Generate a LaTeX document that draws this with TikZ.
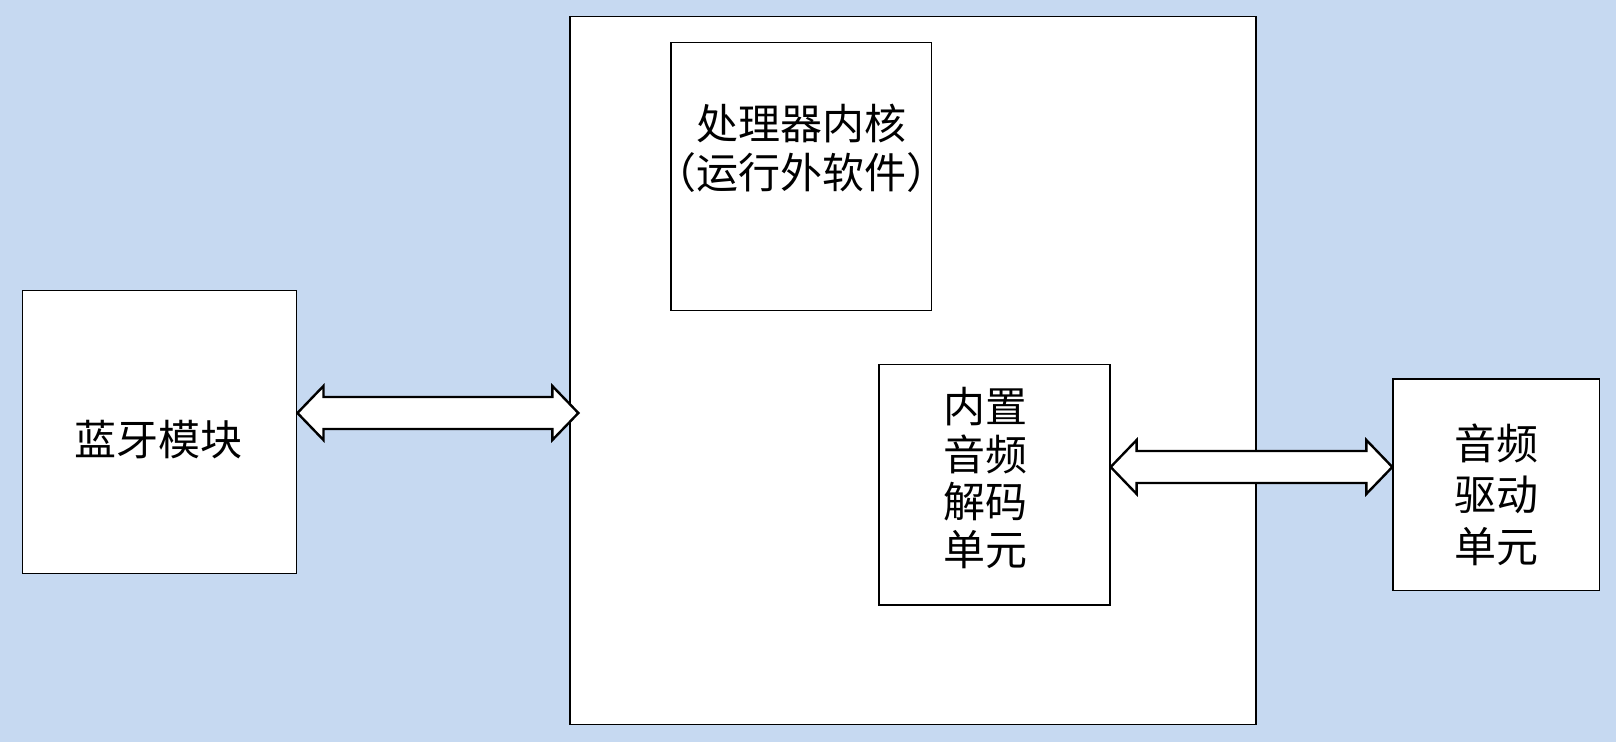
\documentclass[tikz,border=0pt]{standalone}
\usepackage{fontspec}
\setmainfont{Noto Sans CJK SC}
\usetikzlibrary{positioning, calc}
\definecolor{bgblue}{HTML}{C6D9F1}

\begin{document}
\begin{tikzpicture}[
        x=1pt, y=-1pt,
        box/.style={rectangle, draw=black, line width=1.3pt, fill=white, inner sep=0pt},
        txt/.style={align=center, font=\fontsize{42}{49}\selectfont, inner sep=0pt},
        bigarrow/.style={draw=black, line width=2.4pt, fill=white, line join=miter}
    ]
    % background
    \fill[bgblue] (0,0) rectangle (1616,742);
    \useasboundingbox (0,0) rectangle (1616,742);

    % boxes
    \node[box, minimum width=274, minimum height=283] (bt) at (159.8,432.3) {};
    \node[txt] (bttxt) at (158.5,440) {蓝牙模块};

    \node[box, minimum width=686, minimum height=708] (soc) at (913,370.5) {};

    \node[box, minimum width=260.7, minimum height=268] (core) at (801.3,176.3) {};
    \node[txt] (coretxt) at (801,148.5) {处理器内核\\（运行外软件）};

    \node[box, minimum width=231, minimum height=240.2] (dec) at (994.5,484.9) {};
    \node[txt, font=\fontsize{42}{47.5}\selectfont] (dectxt) at (985,478) {内置\\音频\\解码\\单元};

    \node[box, minimum width=206.5, minimum height=211.5] (drv) at (1496.2,484.7) {};
    \node[txt, font=\fontsize{42}{51.5}\selectfont] (drvtxt) at (1496.5,494.5) {音频\\驱动\\单元};

    % double arrows
    \coordinate (a1) at (bt.east |- 0,413);
    \coordinate (b1) at ($(soc.west |- 0,413)+(9,0)$);
    \draw[bigarrow] (a1) -- ++(26,-27) -- ++(0,11) -- ($(b1)+(-26,-16)$) -- ++(0,-11)
        -- (b1) -- ++(-26,27) -- ++(0,-11) -- ($(a1)+(26,16)$) -- ++(0,11) -- cycle;

    \coordinate (a2) at (dec.east |- 0,467);
    \coordinate (b2) at (drv.west |- 0,467);
    \draw[bigarrow] (a2) -- ++(26,-27) -- ++(0,11) -- ($(b2)+(-26,-16)$) -- ++(0,-11)
        -- (b2) -- ++(-26,27) -- ++(0,-11) -- ($(a2)+(26,16)$) -- ++(0,11) -- cycle;
\end{tikzpicture}
\end{document}
